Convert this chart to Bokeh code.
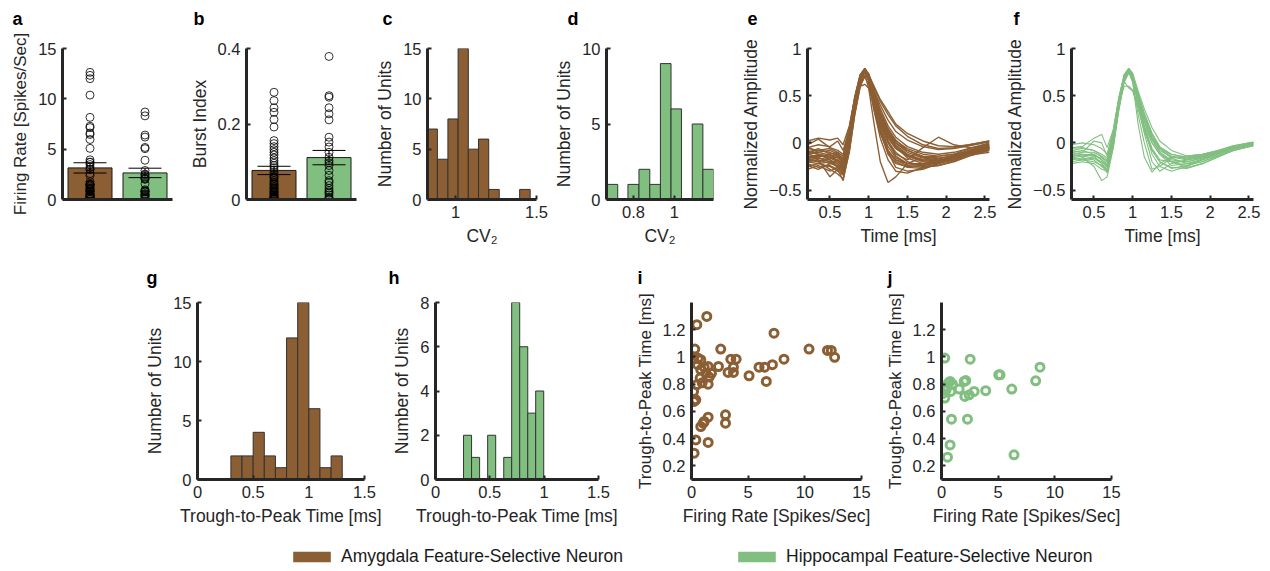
from bokeh.plotting import figure
from bokeh.models import Range1d, FixedTicker, Label, Spacer, Legend, LegendItem
from bokeh.layouts import row, column
from bokeh.embed import file_html
from bokeh.resources import INLINE

# ---------------- data ----------------
GROUPS = ["Amygdala Feature-Selective Neuron", "Hippocampal Feature-Selective Neuron"]
BAR_POS = [1, 2]
FR_MEAN = [3.14, 2.64]
FR_SEM = [0.51, 0.47]
BI_MEAN = [0.077, 0.111]
BI_SEM = [0.011, 0.019]

FR_AMY = [0.47, 1.35, 7.28, 0.29, 2.58, 10.37, 12.0, 12.33, 12.63, 0.18, 0.59, 0.82,
          3.47, 3.94, 8.16, 7.14, 5.96, 6.46, 5.08, 6.6, 2.38, 3.23, 3.7, 3.7, 1.12,
          1.47, 0.82, 1.26, 1.76, 0.76, 1.47, 0.47, 0.94, 0.18, 0.38, 0.23, 3.0, 3.0,
          1.47, 1.12, 0.82, 0.38, 1.47, 0.23, 0.53, 1.56, 1.03]
TTP_AMY = [1.237, 1.298, 1.175, 1.058, 1.058, 1.058, 1.048, 1.048, 0.997, 0.984, 0.99, 0.98,
           0.984, 0.984, 0.984, 0.943, 0.925, 0.925, 0.862, 0.82, 0.93, 0.886, 0.886, 0.925, 0.925,
           0.93, 0.906, 0.88, 0.88, 0.845, 0.80, 0.796, 0.81, 0.747, 0.685, 0.673, 0.575, 0.514,
           0.558, 0.526, 0.489, 0.391, 0.372, 0.293, 0.943, 0.852, 0.514]
FR_HIP = [0.29, 2.53, 8.69, 5.05, 5.17, 8.31, 6.2, 3.9, 2.88, 2.44, 2.06, 2.14, 1.56, 0.76,
          0.97, 0.47, 0.82, 0.09, 0.29, 0.88, 2.29, 0.76, 0.53, 6.4, 2.0, 0.59, 0.41]
TTP_HIP = [0.992, 0.984, 0.925, 0.869, 0.869, 0.825, 0.764, 0.752, 0.747, 0.722, 0.71, 0.827,
           0.764, 0.82, 0.80, 0.783, 0.747, 0.73, 0.698, 0.543, 0.543, 0.354, 0.264, 0.281,
           0.82, 0.808, 0.759]
BI_AMY = [0.284, 0.262, 0.243, 0.231, 0.212, 0.192, 0.156, 0.148, 0.140, 0.132, 0.125, 0.118,
          0.110, 0.103, 0.096, 0.090, 0.084, 0.078, 0.072, 0.066, 0.061, 0.056, 0.051, 0.047,
          0.043, 0.039, 0.035, 0.031, 0.028, 0.025, 0.022, 0.019, 0.016, 0.014, 0.012, 0.010,
          0.008, 0.006, 0.005, 0.004, 0.003, 0.002, 0.001, 0.020, 0.030, 0.040, 0.060]
BI_HIP = [0.379, 0.275, 0.271, 0.243, 0.227, 0.211, 0.165, 0.152, 0.139, 0.125, 0.112, 0.103,
          0.097, 0.090, 0.077, 0.064, 0.050, 0.045, 0.037, 0.030, 0.024, 0.017, 0.012, 0.006,
          0.003, 0.000, 0.020]

CV2_AMY_EDGES = [0.827, 0.888, 0.953, 1.016, 1.079, 1.142, 1.205, 1.270, 1.335, 1.396, 1.461]
CV2_AMY_COUNTS = [7, 4, 8, 15, 5, 6, 1, 0, 0, 1]
CV2_HIP_EDGES = [0.668, 0.723, 0.773, 0.827, 0.880, 0.932, 0.984, 1.035, 1.088, 1.140, 1.192]
CV2_HIP_COUNTS = [1, 0, 1, 2, 1, 9, 6, 0, 5, 2]
TTP_AMY_EDGES = [0.3, 0.4, 0.5, 0.6, 0.7, 0.8, 0.9, 1.0, 1.1, 1.2, 1.3]
TTP_AMY_COUNTS = [2, 2, 4, 2, 1, 12, 15, 6, 1, 2]
TTP_HIP_EDGES = [0.258, 0.332, 0.406, 0.480, 0.554, 0.628, 0.701, 0.775, 0.849, 0.922, 0.996]
TTP_HIP_COUNTS = [2, 1, 0, 2, 0, 1, 8, 6, 3, 4]

WAVE_T = [0.21, 0.35, 0.5, 0.6, 0.67, 0.75, 0.82, 0.89, 0.95, 1.0, 1.07, 1.15, 1.25, 1.35,
          1.5, 1.7, 1.9, 2.1, 2.3, 2.56]
WAVES_AMY = [
    [-0.15, -0.13, -0.16, -0.20, -0.24, 0.05, 0.40, 0.68, 0.78, 0.70, 0.48, 0.28, 0.10, -0.02, -0.12, -0.18, -0.19, -0.15, -0.09, -0.04],
    [-0.10, -0.08, -0.10, -0.14, -0.18, 0.12, 0.47, 0.72, 0.79, 0.72, 0.52, 0.33, 0.15, 0.03, -0.08, -0.15, -0.17, -0.14, -0.08, -0.02],
    [-0.20, -0.22, -0.25, -0.30, -0.34, -0.02, 0.34, 0.63, 0.76, 0.66, 0.38, 0.12, -0.12, -0.22, -0.25, -0.24, -0.21, -0.17, -0.11, -0.06],
    [-0.18, -0.20, -0.28, -0.33, -0.38, -0.10, 0.30, 0.60, 0.72, 0.58, 0.20, -0.20, -0.42, -0.36, -0.22, -0.15, -0.14, -0.12, -0.09, -0.06],
    [0.02, 0.05, 0.03, 0.05, -0.02, 0.18, 0.47, 0.70, 0.77, 0.72, 0.55, 0.40, 0.24, 0.12, 0.03, -0.04, -0.07, -0.06, -0.03, 0.01],
    [-0.25, -0.22, -0.20, -0.22, -0.28, 0.02, 0.40, 0.68, 0.78, 0.70, 0.45, 0.22, 0.02, -0.10, -0.20, -0.25, -0.24, -0.20, -0.14, -0.08],
    [-0.12, -0.15, -0.12, -0.10, -0.20, 0.08, 0.43, 0.70, 0.78, 0.71, 0.50, 0.30, 0.12, 0.00, -0.10, -0.16, -0.18, -0.16, -0.10, -0.05],
    [-0.08, -0.12, -0.18, -0.25, -0.30, 0.00, 0.37, 0.66, 0.77, 0.68, 0.40, 0.15, -0.08, -0.20, -0.26, -0.27, -0.22, -0.16, -0.10, -0.05],
    [-0.14, -0.18, -0.36, -0.28, -0.20, 0.10, 0.45, 0.70, 0.78, 0.70, 0.46, 0.25, 0.06, -0.06, -0.14, -0.20, -0.21, -0.18, -0.12, -0.06],
    [-0.16, -0.14, -0.15, -0.18, -0.22, 0.06, 0.41, 0.68, 0.77, 0.69, 0.44, 0.22, 0.02, -0.12, -0.18, -0.05, 0.06, -0.02, -0.05, -0.04],
    [-0.05, -0.02, -0.04, 0.02, -0.08, 0.14, 0.46, 0.70, 0.78, 0.73, 0.58, 0.44, 0.30, 0.18, 0.07, -0.02, -0.06, -0.05, -0.02, 0.02],
    [-0.22, -0.26, -0.24, -0.28, -0.40, -0.08, 0.30, 0.60, 0.70, 0.62, 0.35, 0.10, -0.10, -0.18, -0.22, -0.23, -0.20, -0.16, -0.12, -0.08],
    [-0.12, -0.10, -0.13, -0.16, -0.20, 0.08, 0.42, 0.60, 0.62, 0.58, 0.42, 0.22, 0.05, -0.06, -0.14, -0.18, -0.17, -0.13, -0.08, -0.03],
    [-0.18, -0.16, -0.20, -0.26, -0.32, -0.04, 0.35, 0.64, 0.76, 0.66, 0.34, 0.05, -0.18, -0.30, -0.32, -0.26, -0.22, -0.18, -0.12, -0.07],
    [-0.10, -0.12, -0.14, -0.12, -0.16, 0.14, 0.48, 0.72, 0.79, 0.73, 0.54, 0.36, 0.18, 0.06, -0.04, -0.10, -0.12, -0.10, -0.06, -0.01],
    [-0.20, -0.18, -0.22, -0.24, -0.26, 0.02, 0.39, 0.66, 0.77, 0.68, 0.42, 0.18, -0.04, -0.16, -0.22, -0.22, -0.19, -0.15, -0.10, -0.05],
    [-0.14, -0.16, -0.18, -0.22, -0.30, 0.00, 0.37, 0.66, 0.76, 0.66, 0.38, 0.12, -0.10, -0.26, -0.30, -0.28, -0.22, -0.16, -0.10, -0.06],
    [-0.06, -0.08, -0.06, -0.10, -0.14, 0.16, 0.49, 0.72, 0.78, 0.72, 0.52, 0.32, 0.14, 0.02, -0.06, -0.12, -0.14, -0.12, -0.06, 0.00],
    [-0.02, 0.04, -0.05, -0.08, -0.12, 0.10, 0.44, 0.69, 0.78, 0.72, 0.60, 0.46, 0.33, 0.20, 0.10, 0.02, -0.03, -0.04, -0.02, 0.02],
    [-0.28, -0.24, -0.30, -0.26, -0.34, -0.06, 0.33, 0.63, 0.75, 0.66, 0.40, 0.14, -0.08, -0.18, -0.24, -0.26, -0.24, -0.19, -0.13, -0.10],
    [-0.16, -0.20, -0.17, -0.14, -0.22, 0.04, 0.40, 0.67, 0.77, 0.69, 0.47, 0.27, 0.08, -0.04, -0.13, -0.19, -0.20, -0.16, -0.10, -0.05],
    [-0.10, -0.06, -0.12, -0.20, -0.26, 0.03, 0.39, 0.67, 0.77, 0.69, 0.43, 0.20, 0.00, -0.14, -0.22, -0.24, -0.20, -0.14, -0.08, -0.03],
    [-0.24, -0.28, -0.22, -0.18, -0.24, 0.04, 0.41, 0.68, 0.78, 0.70, 0.50, 0.30, 0.12, 0.00, -0.08, -0.14, -0.16, -0.14, -0.09, -0.05],
    [-0.04, -0.10, -0.08, -0.12, -0.18, 0.10, 0.45, 0.70, 0.78, 0.71, 0.49, 0.29, 0.10, -0.04, -0.16, -0.22, -0.20, -0.14, -0.08, -0.02],
]
WAVES_HIP = [
    [-0.10, -0.08, -0.12, -0.18, -0.22, 0.06, 0.42, 0.70, 0.78, 0.72, 0.48, 0.25, 0.05, -0.08, -0.15, -0.18, -0.15, -0.10, -0.05, 0.00],
    [-0.12, -0.15, -0.25, -0.40, -0.36, -0.05, 0.35, 0.66, 0.76, 0.66, 0.30, 0.00, -0.28, -0.25, -0.16, -0.14, -0.12, -0.09, -0.05, -0.01],
    [-0.05, -0.04, 0.05, 0.09, -0.05, 0.14, 0.46, 0.72, 0.79, 0.72, 0.52, 0.32, 0.10, -0.05, -0.14, -0.17, -0.14, -0.09, -0.04, 0.00],
    [-0.15, -0.12, -0.14, -0.22, -0.28, 0.00, 0.38, 0.66, 0.75, 0.64, 0.20, -0.15, -0.31, -0.22, -0.15, -0.16, -0.14, -0.10, -0.06, -0.02],
    [-0.08, -0.10, -0.10, -0.15, -0.20, 0.08, 0.42, 0.60, 0.60, 0.56, 0.40, 0.18, 0.00, -0.12, -0.20, -0.24, -0.20, -0.13, -0.07, -0.02],
    [-0.18, -0.16, -0.18, -0.25, -0.30, -0.02, 0.36, 0.66, 0.77, 0.68, 0.44, 0.15, -0.12, -0.25, -0.30, -0.25, -0.18, -0.12, -0.06, -0.02],
    [-0.06, -0.05, -0.08, -0.12, -0.16, 0.12, 0.47, 0.72, 0.79, 0.74, 0.55, 0.36, 0.16, 0.02, -0.08, -0.14, -0.12, -0.08, -0.03, 0.01],
    [-0.12, -0.14, -0.16, -0.20, -0.26, 0.02, 0.40, 0.68, 0.77, 0.69, 0.40, 0.10, -0.20, -0.30, -0.22, -0.18, -0.15, -0.11, -0.06, -0.02],
    [-0.20, -0.18, -0.16, -0.22, -0.32, -0.04, 0.34, 0.64, 0.74, 0.66, 0.46, 0.24, 0.04, -0.10, -0.20, -0.26, -0.22, -0.15, -0.08, -0.03],
    [-0.02, 0.00, -0.02, -0.06, -0.12, 0.14, 0.48, 0.72, 0.78, 0.72, 0.50, 0.28, 0.06, -0.06, -0.12, -0.15, -0.12, -0.08, -0.03, 0.01],
    [-0.14, -0.12, -0.13, -0.18, -0.24, 0.04, 0.40, 0.68, 0.77, 0.70, 0.46, 0.22, 0.00, -0.12, -0.24, -0.22, -0.17, -0.11, -0.05, -0.01],
    [-0.10, -0.12, -0.14, -0.16, -0.20, 0.06, 0.42, 0.69, 0.78, 0.70, 0.44, 0.18, -0.06, -0.18, -0.20, -0.20, -0.16, -0.11, -0.05, 0.00],
    [-0.16, -0.14, -0.12, -0.18, -0.24, 0.03, 0.40, 0.68, 0.77, 0.70, 0.50, 0.30, 0.08, -0.06, -0.16, -0.22, -0.20, -0.14, -0.08, -0.02],
    [-0.22, -0.20, -0.22, -0.28, -0.30, -0.02, 0.37, 0.65, 0.58, 0.55, 0.36, 0.12, -0.08, -0.20, -0.26, -0.27, -0.22, -0.15, -0.08, -0.03],
    [-0.08, -0.06, -0.08, -0.14, -0.18, 0.08, 0.44, 0.70, 0.78, 0.72, 0.52, 0.30, 0.10, -0.04, -0.12, -0.16, -0.13, -0.09, -0.04, 0.00],
    [-0.16, -0.18, -0.20, -0.24, -0.28, 0.00, 0.38, 0.67, 0.77, 0.69, 0.42, 0.16, -0.08, -0.20, -0.27, -0.24, -0.18, -0.12, -0.06, -0.02],
    [-0.12, -0.10, 0.02, 0.00, -0.14, 0.08, 0.44, 0.70, 0.78, 0.71, 0.47, 0.24, 0.03, -0.10, -0.18, -0.20, -0.16, -0.10, -0.05, 0.00],
]

# tick values and labels
FR_TICKS, FR_LABELS = [0, 5, 10, 15], ["0", "5", "10", "15"]
BI_TICKS, BI_LABELS = [0, 0.2, 0.4], ["0", "0.2", "0.4"]
CNT15_TICKS, CNT15_LABELS = [0, 5, 10, 15], ["0", "5", "10", "15"]
CNT10_TICKS, CNT10_LABELS = [0, 5, 10], ["0", "5", "10"]
CNT8_TICKS, CNT8_LABELS = [0, 2, 4, 6, 8], ["0", "2", "4", "6", "8"]
CVA_TICKS, CVA_LABELS = [1, 1.5], ["1", "1.5"]
CVH_TICKS, CVH_LABELS = [0.8, 1], ["0.8", "1"]
AMP_TICKS, AMP_LABELS = [-0.5, 0, 0.5, 1], ["\u22120.5", "0", "0.5", "1"]
TIME_TICKS, TIME_LABELS = [0.5, 1, 1.5, 2, 2.5], ["0.5", "1", "1.5", "2", "2.5"]
TTP_TICKS, TTP_LABELS = [0, 0.5, 1, 1.5], ["0", "0.5", "1", "1.5"]
SC_X_TICKS, SC_X_LABELS = [0, 5, 10, 15], ["0", "5", "10", "15"]
SC_Y_TICKS, SC_Y_LABELS = [0.2, 0.4, 0.6, 0.8, 1, 1.2], ["0.2", "0.4", "0.6", "0.8", "1", "1.2"]

PANEL_LETTERS_1 = ["a", "b", "c", "d", "e", "f"]
PANEL_LETTERS_2 = ["g", "h", "i", "j"]

# ---------------- style ----------------
BROWN = "#8C5E33"
GREEN = "#80BF80"
AXC = "#262626"
FONT = "Liberation Sans"
TICK_FS = "16.5px"
LABEL_FS = "17.5px"
W = 1270


def panel(width, height, borders, xr, yr):
    l, r, t, b = borders
    p = figure(width=width, height=height, x_range=Range1d(*xr), y_range=Range1d(*yr),
               output_backend="svg", toolbar_location=None,
               min_border_left=l, min_border_right=r, min_border_top=t, min_border_bottom=b)
    p.outline_line_color = None
    p.grid.visible = False
    for ax in p.axis:
        ax.axis_line_color = AXC
        ax.axis_line_width = 3
        ax.major_tick_in = 4
        ax.major_tick_out = 0
        ax.major_tick_line_color = AXC
        ax.major_tick_line_width = 2
        ax.minor_tick_line_color = None
        ax.major_label_text_font = FONT
        ax.major_label_text_font_size = TICK_FS
        ax.major_label_text_color = AXC
        ax.major_label_standoff = 6
        ax.axis_label_text_font = FONT
        ax.axis_label_text_font_size = LABEL_FS
        ax.axis_label_text_font_style = "normal"
        ax.axis_label_text_color = AXC
        ax.axis_label_standoff = 5
    return p


def ticks(axis, vals, labels):
    axis.ticker = FixedTicker(ticks=vals)
    axis.major_label_overrides = {v: s for v, s in zip(vals, labels)}


def header(height, letters, xs, mid):
    h = figure(width=W, height=height, x_range=Range1d(0, W), y_range=Range1d(0, height),
               x_axis_type=None, y_axis_type=None, output_backend="svg",
               toolbar_location=None, min_border=0)
    h.outline_line_color = None
    h.grid.visible = False
    for txt, x in zip(letters, xs):
        h.add_layout(Label(x=x, y=mid, x_units="screen", y_units="screen", text=txt,
                           text_font=FONT, text_font_size="18px", text_font_style="bold",
                           text_color="black", text_baseline="middle", text_align="left"))
    return h


def bar_panel(p, means, sems, amy, hip):
    p.vbar(x=BAR_POS, top=means, bottom=0, width=0.8, fill_color=[BROWN, GREEN],
           line_color="#1a1a1a", line_width=1)
    p.scatter(x=[BAR_POS[0]] * len(amy), y=amy, size=8, fill_color=None,
              line_color="black", line_width=0.8)
    p.scatter(x=[BAR_POS[1]] * len(hip), y=hip, size=8, fill_color=None,
              line_color="black", line_width=0.8)
    lo = [m - s for m, s in zip(means, sems)]
    hi = [m + s for m, s in zip(means, sems)]
    p.segment(x0=BAR_POS, y0=lo, x1=BAR_POS, y1=hi, line_color="black", line_width=1)
    p.segment(x0=[x - 0.3 for x in BAR_POS], y0=hi, x1=[x + 0.3 for x in BAR_POS], y1=hi,
              line_color="black", line_width=1)
    p.segment(x0=[x - 0.3 for x in BAR_POS], y0=lo, x1=[x + 0.3 for x in BAR_POS], y1=lo,
              line_color="black", line_width=1)
    p.xaxis.ticker = FixedTicker(ticks=[])


def hist(p, edges, counts, color):
    p.quad(left=edges[:-1], right=edges[1:], top=counts, bottom=0, fill_color=color,
           line_color="#333333", line_width=1)


HEAD1 = 30
H1 = 230
B1 = (18, 61)
HEAD2 = 28
H2 = 245
B2 = (14, 54)

# ---- row 1 ----
pa = panel(186, H1, (62, 14) + B1, (0.5, 2.5), (0, 15))
bar_panel(pa, FR_MEAN, FR_SEM, FR_AMY, FR_HIP)
ticks(pa.yaxis[0], FR_TICKS, FR_LABELS)
pa.yaxis.axis_label = "Firing Rate [Spikes/Sec]"
pa.yaxis.axis_label_text_font_size = "17px"

pb = panel(182, H1, (60, 12) + B1, (0.5, 2.5), (0, 0.4))
bar_panel(pb, BI_MEAN, BI_SEM, BI_AMY, BI_HIP)
ticks(pb.yaxis[0], BI_TICKS, BI_LABELS)
pb.yaxis.axis_label = "Burst Index"

pc = panel(183, H1, (59, 15) + B1, (0.827, 1.5), (0, 15))
hist(pc, CV2_AMY_EDGES, CV2_AMY_COUNTS, BROWN)
ticks(pc.xaxis[0], CVA_TICKS, CVA_LABELS)
ticks(pc.yaxis[0], CNT15_TICKS, CNT15_LABELS)
pc.xaxis.axis_label = "CV\u2082"
pc.yaxis.axis_label = "Number of Units"

pd = panel(182, H1, (52, 20) + B1, (0.668, 1.192), (0, 10))
hist(pd, CV2_HIP_EDGES, CV2_HIP_COUNTS, GREEN)
ticks(pd.xaxis[0], CVH_TICKS, CVH_LABELS)
ticks(pd.yaxis[0], CNT10_TICKS, CNT10_LABELS)
pd.xaxis.axis_label = "CV\u2082"
pd.yaxis.axis_label = "Number of Units"

pe = panel(267, H1, (74, 11) + B1, (0.21, 2.56), (-0.6, 1))
pe.multi_line(xs=[WAVE_T] * len(WAVES_AMY), ys=WAVES_AMY, line_color=BROWN, line_width=1.4)
ticks(pe.xaxis[0], TIME_TICKS, TIME_LABELS)
ticks(pe.yaxis[0], AMP_TICKS, AMP_LABELS)
pe.xaxis.axis_label = "Time [ms]"
pe.yaxis.axis_label = "Normalized Amplitude"

pf = panel(270, H1, (71, 17) + B1, (0.21, 2.56), (-0.6, 1))
pf.multi_line(xs=[WAVE_T] * len(WAVES_HIP), ys=WAVES_HIP, line_color=GREEN, line_width=1.1)
ticks(pf.xaxis[0], TIME_TICKS, TIME_LABELS)
ticks(pf.yaxis[0], AMP_TICKS, AMP_LABELS)
pf.xaxis.axis_label = "Time [ms]"
pf.yaxis.axis_label = "Normalized Amplitude"

# ---- row 2 ----
pg = panel(259, H2, (67, 25) + B2, (0, 1.5), (0, 15))
hist(pg, TTP_AMY_EDGES, TTP_AMY_COUNTS, BROWN)
ticks(pg.xaxis[0], TTP_TICKS, TTP_LABELS)
ticks(pg.yaxis[0], CNT15_TICKS, CNT15_LABELS)
pg.xaxis.axis_label = "Trough-to-Peak Time [ms]"
pg.yaxis.axis_label = "Number of Units"

ph = panel(236, H2, (40, 27) + B2, (0, 1.5), (0, 8))
hist(ph, TTP_HIP_EDGES, TTP_HIP_COUNTS, GREEN)
ticks(ph.xaxis[0], TTP_TICKS, TTP_LABELS)
ticks(ph.yaxis[0], CNT8_TICKS, CNT8_LABELS)
ph.xaxis.axis_label = "Trough-to-Peak Time [ms]"
ph.yaxis.axis_label = "Number of Units"

pi = panel(253, H2, (66, 17) + B2, (0, 15), (0.1, 1.4))
pi.scatter(x=FR_AMY, y=TTP_AMY, size=8, fill_color=None, line_color=BROWN, line_width=3)
ticks(pi.xaxis[0], SC_X_TICKS, SC_X_LABELS)
ticks(pi.yaxis[0], SC_Y_TICKS, SC_Y_LABELS)
pi.xaxis.axis_label = "Firing Rate [Spikes/Sec]"
pi.yaxis.axis_label = "Trough-to-Peak Time [ms]"
pi.yaxis.axis_label_text_font_size = "17px"

pj = panel(392, H2, (63, 159) + B2, (0, 15), (0.1, 1.4))
pj.scatter(x=FR_HIP, y=TTP_HIP, size=8, fill_color=None, line_color=GREEN, line_width=3)
ticks(pj.xaxis[0], SC_X_TICKS, SC_X_LABELS)
ticks(pj.yaxis[0], SC_Y_TICKS, SC_Y_LABELS)
pj.xaxis.axis_label = "Firing Rate [Spikes/Sec]"
pj.yaxis.axis_label = "Trough-to-Peak Time [ms]"
pj.yaxis.axis_label_text_font_size = "17px"

# ---- panel letters ----
head1 = header(HEAD1, PANEL_LETTERS_1, [12, 193, 382, 567, 747, 1013], HEAD1 - 18)
head2 = header(HEAD2, PANEL_LETTERS_2, [146, 388, 637, 887], HEAD2 - 17.5)

# ---- legend row ----
leg = figure(width=W, height=38, x_range=Range1d(0, 1), y_range=Range1d(0, 1),
             x_axis_type=None, y_axis_type=None, output_backend="svg",
             toolbar_location=None, min_border=0)
leg.outline_line_color = None
leg.grid.visible = False
for lab, col, xloc in [(GROUPS[0], BROWN, 288), (GROUPS[1], GREEN, 733)]:
    r = leg.quad(left=[5], right=[6], top=[5], bottom=[4], fill_color=col, line_color=None)
    lg = Legend(items=[LegendItem(label=lab, renderers=[r])], location=(xloc, 4),
                orientation="horizontal", border_line_color=None, background_fill_alpha=0,
                padding=0, margin=0, spacing=0, glyph_width=47, glyph_height=13,
                label_standoff=6, label_text_font=FONT, label_text_font_size=LABEL_FS,
                label_text_color="#1a1a1a")
    leg.add_layout(lg)

layout = column(
    head1,
    row(pa, pb, pc, pd, pe, pf, spacing=0),
    head2,
    row(Spacer(width=130, height=H2), pg, ph, pi, pj, spacing=0),
    leg,
    spacing=0,
)

open("out.html", "w").write(file_html(layout, INLINE))
